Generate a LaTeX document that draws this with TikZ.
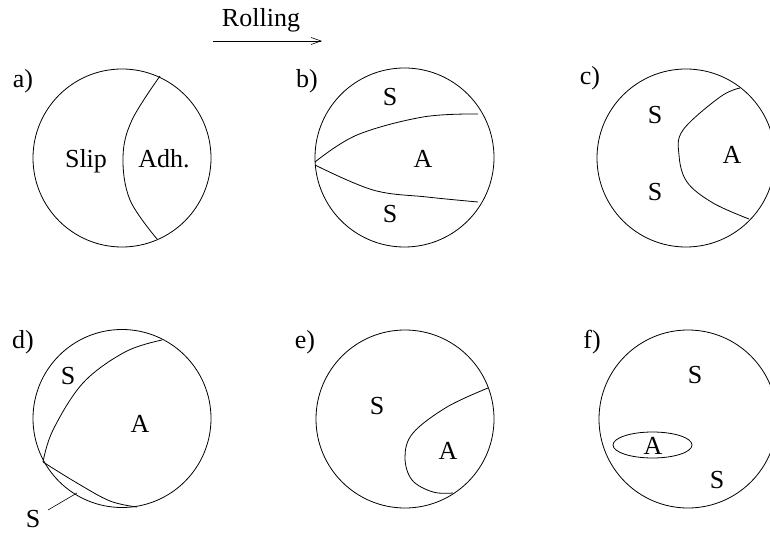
\documentclass[tikz,border=0pt]{standalone}
\usepackage{fontspec}
\setmainfont{Liberation Serif}
\usetikzlibrary{arrows.meta}
\begin{document}
\begin{tikzpicture}[x=1pt,y=-1pt,line width=0.8pt,
  lbl/.style={font=\fontsize{26}{30}\selectfont,inner sep=0pt},
  disk/.style={draw},
  bound/.style={draw}]
\useasboundingbox (0,0) rectangle (770,534);
\clip (0,0) rectangle (770,534);
% Rolling arrow
\node[lbl] (roll) at (261,20.5) {Rolling};
\coordinate (r1) at (213,41);
\coordinate (r2) at (322,41);
\draw[-{Straight Barb[length=10pt,width=7pt]},line width=0.6pt] (r1) -- (r2);

% a)
\node[lbl] (la) at (23,81) {a)};
\draw[disk] (122,158) circle (89);
\draw[bound] plot[smooth,tension=0.6] coordinates {(160,76) (132,120) (123,157) (130,200) (157,239)};
\node[lbl] (slip) at (86,161.5) {Slip};
\node[lbl] (adh) at (164,159) {Adh.};

% b)
\node[lbl] (lb) at (307,81) {b)};
\draw[disk] (404.5,157.5) circle (89.5);
\draw[bound] plot[smooth,tension=0.6] coordinates {(315,162) (357,135) (423,117) (478,114)};
\draw[bound] plot[smooth,tension=0.6] coordinates {(315,165) (373,190) (427,197) (478,202)};
\node[lbl] (bs1) at (390,97) {S};
\node[lbl] (ba) at (423,158.5) {A};
\node[lbl] (bs2) at (390,214.5) {S};

% c)
\node[lbl] (lc) at (590,78) {c)};
\draw[disk] (686,158) circle (89);
\draw[bound] plot[smooth,tension=0.6] coordinates {(740,88) (720,97) (683,130) (679,155) (687,182) (713,203) (749,219)};
\node[lbl] (cs1) at (655,115) {S};
\node[lbl] (ca) at (732,155) {A};
\node[lbl] (cs2) at (655,192) {S};

% d)
\node[lbl] (ld) at (23,342) {d)};
\draw[disk] (122,418.5) circle (89);
\draw[bound] plot[smooth,tension=0.6] coordinates {(162,340) (125,352) (83,383) (53,430) (43,462)};
\draw[bound] plot[smooth,tension=0.6] coordinates {(43,462) (77,483) (110,501) (137,507)};
\node[lbl] (ds1) at (68,376) {S};
\node[lbl] (da) at (140,424) {A};
\node[lbl] (ds2) at (33,519) {S};
\coordinate (dl1) at (48,510);
\coordinate (dl2) at (77,493);
\draw[line width=0.6pt] (dl1) -- (dl2);

% e)
\node[lbl] (le) at (305,342) {e)};
\draw[disk] (405,419) circle (89);
\draw[bound] plot[smooth,tension=0.6] coordinates {(488,388) (447,407) (413,433) (405,457) (412,480) (433,492) (453,493)};
\node[lbl] (es) at (377,406) {S};
\node[lbl] (ea) at (448,451) {A};

% f)
\node[lbl] (lf) at (592,342) {f)};
\draw[disk] (688,419) circle (89);
\draw[bound] (652.5,445) ellipse (39.5 and 13);
\node[lbl] (fa) at (653,445.5) {A};
\node[lbl] (fs1) at (695,375.5) {S};
\node[lbl] (fs2) at (717,480.5) {S};
\end{tikzpicture}
\end{document}
